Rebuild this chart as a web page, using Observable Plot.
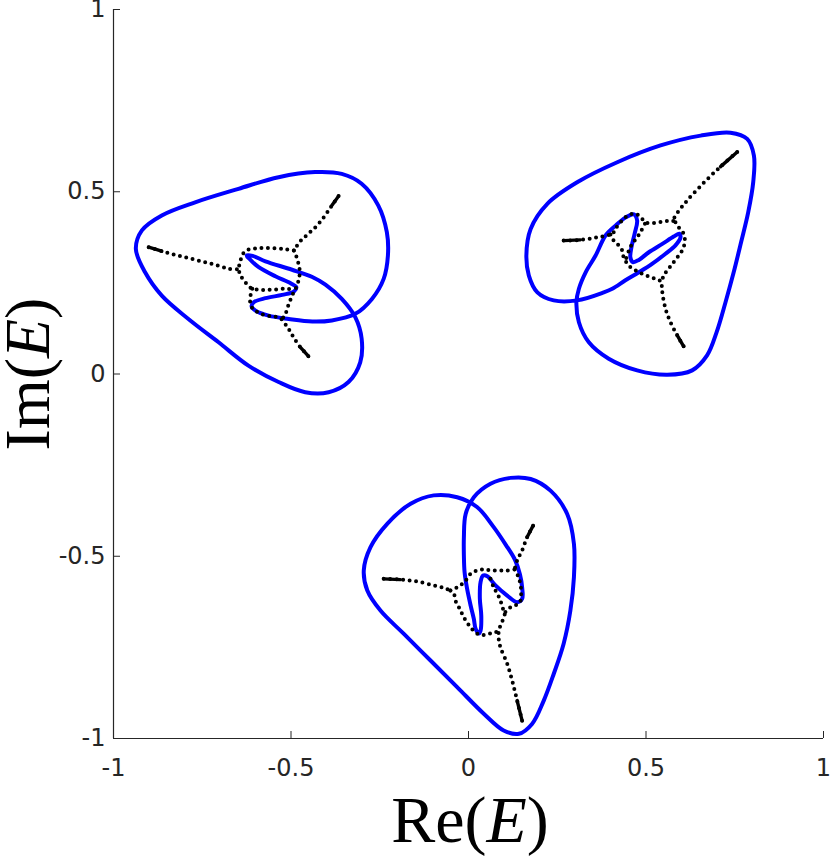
<!DOCTYPE html>
<html><head><meta charset="utf-8">
<script src="https://cdn.jsdelivr.net/npm/d3@7"></script>
<script src="https://cdn.jsdelivr.net/npm/@observablehq/plot@0.6"></script>
<style>
html,body{margin:0;padding:0;background:#fff;}
#chart{width:831px;height:858px;}
</style></head><body><div id="chart"></div>
<script>
const xTicks = [-1, -0.5, 0, 0.5, 1];
const yTicks = [-1, -0.5, 0, 0.5, 1];
const xLabel = ["Re(", "E", ")"];
const yLabel = ["Im(", "E", ")"];

// Blue closed curves (Re, Im)
const blueUpperLeft = [[-0.937,0.343],[-0.920,0.394],[-0.864,0.435],[-0.770,0.471],[-0.648,0.508],[-0.535,0.540],[-0.432,0.554],[-0.357,0.549],[-0.301,0.522],[-0.254,0.462],[-0.230,0.389],[-0.227,0.325],[-0.239,0.261],[-0.272,0.206],[-0.319,0.165],[-0.385,0.147],[-0.440,0.144],[-0.506,0.151],[-0.563,0.160],[-0.600,0.174],[-0.611,0.186],[-0.605,0.197],[-0.572,0.208],[-0.525,0.217],[-0.492,0.226],[-0.485,0.238],[-0.501,0.249],[-0.544,0.268],[-0.591,0.293],[-0.614,0.313],[-0.625,0.325],[-0.608,0.324],[-0.572,0.309],[-0.497,0.286],[-0.440,0.266],[-0.403,0.245],[-0.357,0.206],[-0.319,0.156],[-0.301,0.097],[-0.305,0.032],[-0.338,-0.022],[-0.394,-0.050],[-0.460,-0.050],[-0.535,-0.022],[-0.620,0.023],[-0.704,0.087],[-0.789,0.151],[-0.864,0.215],[-0.911,0.279]];
const blueUpperRight = [[0.466,0.438],[0.475,0.421],[0.468,0.385],[0.459,0.348],[0.456,0.320],[0.463,0.307],[0.480,0.313],[0.508,0.334],[0.546,0.357],[0.578,0.377],[0.594,0.385],[0.597,0.374],[0.583,0.353],[0.555,0.330],[0.517,0.302],[0.480,0.279],[0.442,0.257],[0.405,0.234],[0.381,0.224],[0.306,0.202],[0.240,0.202],[0.194,0.224],[0.170,0.270],[0.163,0.325],[0.175,0.398],[0.222,0.467],[0.306,0.526],[0.419,0.581],[0.541,0.627],[0.654,0.654],[0.738,0.662],[0.785,0.645],[0.804,0.599],[0.802,0.526],[0.788,0.444],[0.768,0.362],[0.747,0.279],[0.724,0.197],[0.699,0.115],[0.672,0.051],[0.630,0.010],[0.560,-0.002],[0.475,0.010],[0.395,0.042],[0.339,0.087],[0.311,0.142],[0.304,0.197],[0.311,0.234],[0.330,0.279],[0.358,0.325],[0.386,0.380],[0.414,0.407],[0.442,0.429]];
const blueLower = [[-0.098,-0.333],[-0.032,-0.338],[0.024,-0.365],[0.071,-0.420],[0.106,-0.470],[0.131,-0.510],[0.145,-0.550],[0.151,-0.585],[0.151,-0.617],[0.137,-0.626],[0.109,-0.608],[0.076,-0.580],[0.053,-0.555],[0.041,-0.553],[0.034,-0.571],[0.032,-0.617],[0.036,-0.663],[0.034,-0.704],[0.029,-0.712],[0.020,-0.699],[0.015,-0.672],[0.006,-0.635],[-0.004,-0.589],[-0.011,-0.544],[-0.013,-0.498],[-0.013,-0.448],[-0.008,-0.384],[0.015,-0.338],[0.062,-0.301],[0.118,-0.285],[0.175,-0.288],[0.231,-0.320],[0.278,-0.384],[0.297,-0.466],[0.297,-0.557],[0.287,-0.649],[0.268,-0.740],[0.240,-0.823],[0.212,-0.896],[0.179,-0.960],[0.142,-0.987],[0.099,-0.978],[0.043,-0.932],[-0.032,-0.859],[-0.107,-0.786],[-0.182,-0.713],[-0.248,-0.649],[-0.285,-0.594],[-0.295,-0.539],[-0.276,-0.475],[-0.229,-0.411],[-0.163,-0.356]];

// Black dotted branches (Re, Im); arms listed from their tip
const arm1Left = [[-0.901,0.348],[-0.864,0.337],[-0.826,0.327],[-0.789,0.318],[-0.751,0.309],[-0.714,0.300],[-0.676,0.289],[-0.647,0.287]];
const loop1Upper = [[-0.492,0.339],[-0.515,0.342],[-0.544,0.345],[-0.572,0.346],[-0.595,0.345],[-0.619,0.342],[-0.633,0.333],[-0.640,0.318],[-0.645,0.302],[-0.647,0.287],[-0.642,0.270],[-0.633,0.257],[-0.621,0.243],[-0.609,0.234],[-0.586,0.231],[-0.563,0.231],[-0.539,0.232],[-0.515,0.234],[-0.497,0.232]];
const loop1Lower = [[-0.609,0.234],[-0.614,0.215],[-0.615,0.197],[-0.609,0.181],[-0.591,0.168],[-0.567,0.160],[-0.544,0.157],[-0.527,0.151]];
const arm1Bottom = [[-0.451,0.049],[-0.474,0.074],[-0.493,0.101],[-0.507,0.124],[-0.527,0.151]];
const loop1Right = [[-0.492,0.339],[-0.485,0.323],[-0.480,0.307],[-0.476,0.289],[-0.476,0.270],[-0.480,0.252],[-0.487,0.234],[-0.497,0.215],[-0.504,0.197],[-0.511,0.179],[-0.517,0.160],[-0.527,0.151]];
const arm1TopRight = [[-0.366,0.488],[-0.385,0.462],[-0.404,0.435],[-0.427,0.407],[-0.451,0.385],[-0.474,0.364],[-0.492,0.339]];

const arm2Left = [[0.268,0.366],[0.315,0.368],[0.363,0.375],[0.400,0.383],[0.409,0.389]];
const loop2Hook = [[0.409,0.389],[0.414,0.398],[0.428,0.416],[0.442,0.430],[0.456,0.438],[0.470,0.440],[0.480,0.435],[0.489,0.426],[0.499,0.416],[0.517,0.414],[0.536,0.416],[0.555,0.419],[0.574,0.421],[0.583,0.416]];
const loop2Right = [[0.583,0.416],[0.588,0.407],[0.600,0.394],[0.608,0.380],[0.609,0.362],[0.604,0.343],[0.592,0.325],[0.578,0.307],[0.564,0.289],[0.550,0.270],[0.544,0.252]];
const arm2Bottom = [[0.606,0.076],[0.588,0.106],[0.569,0.142],[0.555,0.179],[0.546,0.224],[0.544,0.252]];
const arm2TopRight = [[0.757,0.609],[0.710,0.569],[0.663,0.525],[0.616,0.476],[0.589,0.443],[0.577,0.424]];
const loop2LeftLower = [[0.400,0.383],[0.409,0.366],[0.423,0.353],[0.433,0.339],[0.437,0.320],[0.444,0.307],[0.456,0.293],[0.475,0.282],[0.494,0.273],[0.517,0.264],[0.536,0.258],[0.544,0.252]];
const loop2Inner = [[0.497,0.412],[0.487,0.394],[0.475,0.375],[0.461,0.357],[0.452,0.339],[0.444,0.317]];

const arm3Left = [[-0.239,-0.562],[-0.192,-0.564],[-0.145,-0.569],[-0.098,-0.580],[-0.070,-0.587],[-0.051,-0.594]];
const loop3Top = [[-0.051,-0.594],[-0.032,-0.585],[-0.018,-0.576],[-0.008,-0.567],[0.006,-0.548],[0.024,-0.539],[0.043,-0.536],[0.062,-0.539],[0.085,-0.539],[0.109,-0.539],[0.130,-0.536]];
const arm3TopRight = [[0.182,-0.416],[0.165,-0.448],[0.151,-0.484],[0.137,-0.512],[0.130,-0.536]];
const loop3Right = [[0.130,-0.536],[0.139,-0.553],[0.145,-0.571],[0.148,-0.589],[0.148,-0.608],[0.145,-0.626],[0.132,-0.635],[0.118,-0.640],[0.104,-0.653]];
const arm3Bottom = [[0.151,-0.951],[0.137,-0.896],[0.123,-0.841],[0.109,-0.795],[0.090,-0.750],[0.085,-0.726],[0.085,-0.708],[0.090,-0.690],[0.098,-0.672],[0.104,-0.653]];
const loop3LeftLower = [[-0.051,-0.594],[-0.041,-0.603],[-0.037,-0.621],[-0.027,-0.640],[-0.018,-0.658],[-0.008,-0.676],[0.006,-0.695],[0.020,-0.710],[0.039,-0.716],[0.057,-0.713],[0.071,-0.708],[0.085,-0.708]];
const loop3Inner = [[0.062,-0.562],[0.071,-0.585],[0.081,-0.603],[0.090,-0.621],[0.095,-0.640],[0.104,-0.653]];

const blueLoops = [blueUpperLeft, blueUpperRight, blueLower];
const arms = [arm1Left, arm1Bottom, arm1TopRight, arm2Left, arm2Bottom, arm2TopRight, arm3Left, arm3TopRight, arm3Bottom];
const blackBranches = [...arms, loop1Upper, loop1Lower, loop1Right,
  loop2Hook, loop2Right, loop2LeftLower, loop2Inner,
  loop3Top, loop3Right, loop3LeftLower, loop3Inner];

const axisColor = "#262626";
const px = p => p[0], py = p => p[1];
const plot = Plot.plot({
  width: 831, height: 858,
  marginLeft: 113, marginRight: 8, marginTop: 9, marginBottom: 120,
  x: {domain: [-1, 1]},
  y: {domain: [-1, 1]},
  style: {fontFamily: "'DejaVu Sans', sans-serif", fontSize: "24px", color: axisColor, background: "#fff", overflow: "visible"},
  marks: [
    Plot.ruleX([-1], {stroke: axisColor, strokeWidth: 1.2}),
    Plot.ruleY([-1], {stroke: axisColor, strokeWidth: 1.2}),
    Plot.axisX(xTicks, {tickSize: -7, tickPadding: 27, tickFormat: d => String(d), label: null, stroke: axisColor, fill: axisColor}),
    Plot.axisY(yTicks, {tickSize: -7, tickPadding: 15, tickFormat: d => String(d), label: null, stroke: axisColor, fill: axisColor}),
    ...blueLoops.map(d => Plot.line(d, {x: px, y: py, curve: "catmull-rom-closed", stroke: "#0000ff", strokeWidth: 4})),
    ...blackBranches.map(d => Plot.line(d, {x: px, y: py, curve: "catmull-rom", stroke: "#000", strokeWidth: 4, strokeDasharray: "0 6.5", strokeLinecap: "round"})),
    ...arms.map(d => Plot.line(d.slice(0, 2), {x: px, y: py, stroke: "#000", strokeWidth: 3.4, strokeLinecap: "round"}))
  ]
});

const svg = d3.select(plot);
const serif = "'Liberation Serif', 'Times New Roman', serif";
const xl = svg.append("text").attr("x", 470).attr("y", 842).attr("text-anchor", "middle")
  .attr("fill", "#000").style("font-family", serif).style("font-size", "66px");
xl.append("tspan").text(xLabel[0]);
xl.append("tspan").attr("font-style", "italic").text(xLabel[1]);
xl.append("tspan").text(xLabel[2]);
const yl = svg.append("text").attr("transform", "translate(49,374) rotate(-90)").attr("text-anchor", "middle")
  .attr("fill", "#000").style("font-family", serif).style("font-size", "64px");
yl.append("tspan").text(yLabel[0]);
yl.append("tspan").attr("font-style", "italic").text(yLabel[1]);
yl.append("tspan").text(yLabel[2]);

document.getElementById("chart").appendChild(plot);
</script></body></html>
